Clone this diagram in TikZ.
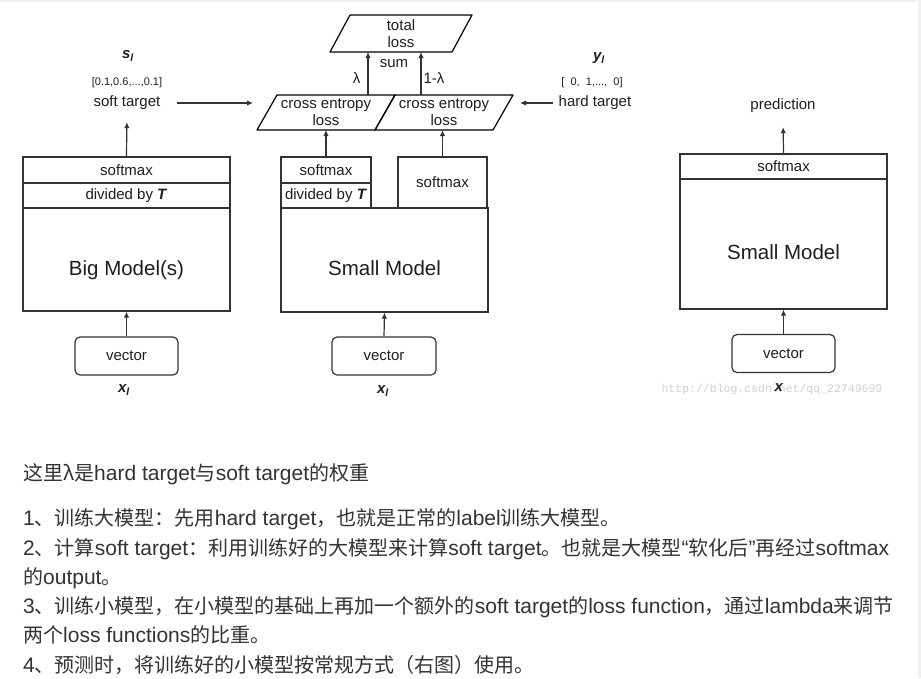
\documentclass[tikz,border=0pt]{standalone}
\usepackage{fontspec}
\setmainfont{Liberation Sans}
\newfontfamily\cjk{Noto Sans CJK SC}
\newfontfamily\wmfont{Liberation Mono}
\usepackage{tikz}
\usetikzlibrary{arrows.meta}
\definecolor{stroke}{HTML}{333333}
\definecolor{ink}{HTML}{1E1E1E}
\definecolor{body}{HTML}{333333}
\definecolor{wmark}{HTML}{D0D0D0}
\definecolor{edge}{HTML}{F0F0F0}
\newcommand\zh[1]{{\cjk\fontsize{20}{25}\selectfont #1}}
\tikzset{
  arr/.style={-{Latex[length=6pt,width=5.5pt]}, line width=1.2pt, draw=stroke},
  box/.style={draw=stroke, line width=1.2pt, inner sep=0pt, text=ink, font=\fontsize{15}{17}\selectfont},
  big/.style={font=\fontsize{20.5}{24}\selectfont, text height=31pt, text depth=0pt},
  vec/.style={box, rounded corners=5pt, minimum width=103pt, minimum height=38pt},
  % slanted box: body of the node, sides pushed 10pt out
  para/.style={inner sep=0pt, outer sep=0pt, minimum width=118pt, minimum height=35pt,
    align=center, text=ink, font=\fontsize{15}{17}\selectfont,
    append after command={\pgfextra{\draw[stroke, line width=1.2pt, line join=round]
      ([xshift=-10pt]\tikzlastnode.south west) -- ([xshift=10pt]\tikzlastnode.north west)
      -- ([xshift=10pt]\tikzlastnode.north east) -- ([xshift=-10pt]\tikzlastnode.south east) -- cycle;}}},
  lab/.style={text=ink, font=\fontsize{15}{17}\selectfont, inner sep=1pt},
  note/.style={text=ink, font=\fontsize{11}{13}\selectfont, inner sep=1pt},
  wm/.style={text=wmark, font=\wmfont\fontsize{11.5}{13}\selectfont, inner sep=0pt},
  txt/.style={text=body, font=\fontsize{21}{25}\selectfont, anchor=base west, inner sep=0pt}
}
\begin{document}
\begin{tikzpicture}[x=1pt,y=-1pt]
  \useasboundingbox (0,0) rectangle (921,678);
  \fill[white] (0,0) rectangle (921,678);
  \fill[edge] (918,0) rectangle (921,678);
  \fill[edge] (0,0) rectangle (921,1.5);

  % teacher
  \node[box, minimum width=207pt, minimum height=26pt] (bsm) at (126.5,170) {softmax};
  \node[box, minimum width=207pt, minimum height=25pt] (bdiv) at (126.5,195.5) {divided by \textbf{\textit{T}}};
  \node[box, big, minimum width=207pt, minimum height=103pt] (bmod) at (126.5,259.5) {Big Model(s)};
  \node[vec] (bvec) at (126.5,356) {vector};
  \node[lab] (bx) at (124,390) {\textbf{\textit{x\textsubscript{l}}}};
  \node[lab] (stxt) at (127,103) {soft target};
  \node[note] (sval) at (127,83) {[0.1,0.6,...,0.1]};
  \node[lab] (sl) at (128,56) {\textbf{\textit{s\textsubscript{l}}}};
  \draw[arr] (bvec.north) -- (bmod.south);
  \draw[arr, shorten >=11pt] (bsm.north) -- (stxt.south);

  % student
  \node[box, minimum width=90pt, minimum height=26pt] (ssm) at (326,170) {softmax};
  \node[box, minimum width=90pt, minimum height=25pt] (sdiv) at (326,195.5) {divided by \textbf{\textit{T}}};
  \node[box, minimum width=89pt, minimum height=51pt] (hsm) at (442.5,182.5) {softmax};
  \node[box, big, minimum width=207pt, minimum height=104pt] (smod) at (384.5,260) {Small Model};
  \node[vec, minimum width=104pt] (svec) at (384,356) {vector};
  \node[lab] (sx) at (383,391) {\textbf{\textit{x\textsubscript{l}}}};
  \draw[arr] (svec.north) -- (smod.south);

  % losses
  \node[para] (ceS) at (326,112.5) {cross entropy\\loss};
  \node[para] (ceH) at (444,112.5) {cross entropy\\loss};
  \node[para, minimum width=122pt, minimum height=37pt] (tot) at (401,33.5) {total\\loss};
  \coordinate (wS) at (368,0);
  \coordinate (wH) at (421,0);
  \draw[arr] (ssm.north) -- (ceS.south);
  \draw[arr] (hsm.north) -- (hsm.north |- ceH.south);
  \draw[arr] (ceS.north -| wS) -- (tot.south -| wS);
  \draw[arr] (ceH.north -| wH) -- (tot.south -| wH);
  \node[lab] (lam) at (356.5,78) {λ};
  \node[lab] (sum) at (394,64) {sum};
  \node[lab] (lamH) at (434,78) {1-λ};
  \draw[arr, shorten <=15pt, shorten >=14pt] (stxt.east) -- (stxt.east -| ceS.west);

  \node[lab] (htxt) at (595,103) {hard target};
  \node[note] (hval) at (592,83) {[ \ 0,\ \ 1,...,\ \ 0]};
  \node[lab] (yl) at (599,58) {\textbf{\textit{y\textsubscript{l}}}};
  \draw[arr, shorten <=5pt, shorten >=17pt] (htxt.west) -- (htxt.west -| ceH.east);

  % prediction
  \node[box, minimum width=207pt, minimum height=25pt] (rsm) at (783.5,166.5) {softmax};
  \node[box, big, minimum width=207pt, minimum height=130pt] (rmod) at (783.5,244) {Small Model};
  \node[vec] (rvec) at (783.5,353.5) {vector};
  \node[lab] (pred) at (783,106) {prediction};
  \node[wm] (url) at (772,390) {http://blog.csdn.net/qq\_22749699};
  \node[lab] (rx) at (779,388) {\textbf{\textit{x}}};
  \draw[arr] (rvec.north) -- (rmod.south);
  \draw[arr, shorten >=13pt] (rsm.north) -- (pred.south);

  % notes
  \node[txt] (t1) at (23,480) {\zh{这里λ是}hard target\zh{与}soft target\zh{的权重}};
  \node[txt] (t2) at (23,525.75) {1\zh{、训练大模型：先用}hard target\zh{，也就是正常的}label\zh{训练大模型。}};
  \node[txt] (t3) at (23,555) {2\zh{、计算}soft target\zh{：利用训练好的大模型来计算}soft target\zh{。也就是大模型}“\zh{软化后}”\zh{再经过}softmax};
  \node[txt] (t4) at (23,584.25) {\zh{的}output\zh{。}};
  \node[txt] (t5) at (23,613.5) {3\zh{、训练小模型，在小模型的基础上再加一个额外的}soft target\zh{的}loss function\zh{，通过}lambda\zh{来调节}};
  \node[txt] (t6) at (23,642.75) {\zh{两个}loss functions\zh{的比重。}};
  \node[txt] (t7) at (23,672) {4\zh{、预测时，将训练好的小模型按常规方式（右图）使用。}};
\end{tikzpicture}
\end{document}
